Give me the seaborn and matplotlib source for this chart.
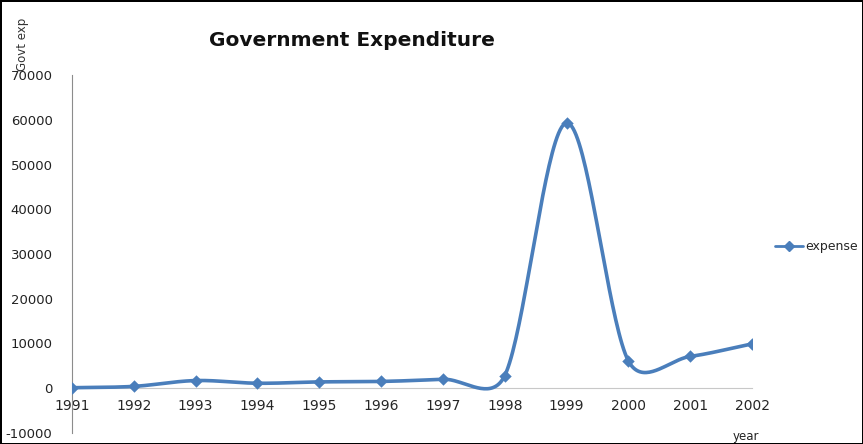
import numpy as np
import pandas as pd
import seaborn as sns
import matplotlib.pyplot as plt

# data
years = [1991, 1992, 1993, 1994, 1995, 1996, 1997, 1998, 1999, 2000, 2001, 2002]
expense = [100, 400, 1700, 1100, 1400, 1500, 2000, 2800, 59300, 6100, 7100, 9900]

df = pd.DataFrame({'year': years, 'expense': expense})

sns.set_style('white')
plt.rcParams['font.family'] = ['DejaVu Sans']

blue = '#4a7ebb'
grey = '#8c8c8c'

# pixel scale of the plot area, used so the smoothing behaves like Excel's
XPX = 61.8          # px per year
YPX = 44.7 / 10000  # px per unit


def smooth(x, y, n=40):
    # Excel style smoothed line: catmull-rom arms, capped at half the segment
    p = np.column_stack([np.asarray(x, float) * XPX, np.asarray(y, float) * YPX])
    p = np.vstack([p[0], p, p[-1]])
    t = np.linspace(0, 1, n)[:, None]
    out = []
    for i in range(1, len(p) - 2):
        p0, p1, p2, p3 = p[i - 1], p[i], p[i + 1], p[i + 2]
        d12 = np.hypot(*(p2 - p1))
        d02 = np.hypot(*(p2 - p0))
        d13 = np.hypot(*(p3 - p1))
        f = 1 / 3 if np.allclose(p0, p1) else 1 / 6
        g = 1 / 3 if np.allclose(p2, p3) else 1 / 6
        if d02 * f < d12 / 2:
            b1 = p1 + (p2 - p0) * f
        else:
            b1 = p1 + (p2 - p0) * d12 / 2 / d02
        if d13 * g < d12 / 2:
            b2 = p2 - (p3 - p1) * g
        else:
            b2 = p2 - (p3 - p1) * d12 / 2 / d13
        out.append((1 - t) ** 3 * p1 + 3 * (1 - t) ** 2 * t * b1
                   + 3 * (1 - t) * t ** 2 * b2 + t ** 3 * p2)
    out = np.vstack(out)
    return out[:, 0] / XPX, out[:, 1] / YPX


fig = plt.figure(figsize=(8.63, 4.44), dpi=100)
fig.patch.set_edgecolor('black')
fig.patch.set_linewidth(2)
ax = fig.add_axes([0.0834, 0.025, 0.788, 0.806])

sx, sy = smooth(df['year'], df['expense'])
ax.plot(sx, sy, color=blue, lw=2.6, zorder=3)
sns.scatterplot(data=df, x='year', y='expense', marker='D', s=40, color=blue,
                edgecolor=blue, linewidth=0, ax=ax, zorder=4, legend=False)

ax.set_xlim(1991, 2002)
ax.set_ylim(-10000, 70000)
ax.set_xticks(years)
ax.set_xticklabels([str(y) for y in years], fontsize=9, color='#222222')
ax.set_yticks(range(-10000, 70001, 10000))
ax.set_yticklabels([str(v) for v in range(-10000, 70001, 10000)], fontsize=9.5, color='#222222')

for s in ['top', 'right']:
    ax.spines[s].set_visible(False)
ax.spines['bottom'].set_position(('data', 0))
ax.spines['bottom'].set_color('#c8c8c8')
ax.spines['left'].set_color(grey)
ax.tick_params(axis='x', direction='out', length=5, color='#c8c8c8', pad=3)
ax.tick_params(axis='y', direction='out', length=4, color=grey, pad=10)
ax.set_xlabel('')
ax.set_ylabel('')

fig.text(0.408, 0.908, 'Government Expenditure', fontsize=14.5, fontweight='bold',
         ha='center', va='center', color='#111111')
fig.text(0.026, 0.9, 'Govt exp', fontsize=8.5, rotation=90, ha='center', va='center', color='#333333')
fig.text(0.864, 0.016, 'year', fontsize=8.5, ha='center', va='center', color='#222222')

# legend on the right
handle = plt.Line2D([], [], color=blue, lw=2, marker='D', markersize=5)
fig.legend([handle], ['expense'], loc='center left', bbox_to_anchor=(0.885, 0.445),
           frameon=False, fontsize=9, handlelength=2.2, handletextpad=0.2)

fig.savefig('out.png', dpi=100, edgecolor=fig.get_edgecolor())
